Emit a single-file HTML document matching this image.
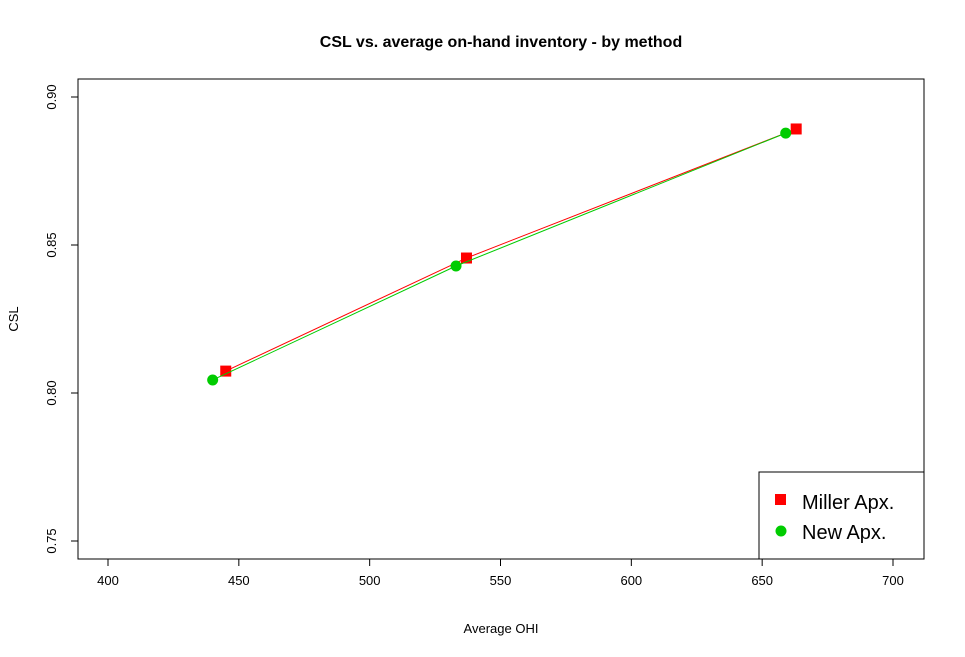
<!DOCTYPE html>
<html><head><meta charset="utf-8"><style>
body{margin:0;background:#fff}
svg{display:block;font-family:"Liberation Sans",Arial,sans-serif}
</style></head><body>
<svg id="chart" width="965" height="657">
<text x="501" y="47" text-anchor="middle" font-size="16" font-weight="bold">CSL vs. average on-hand inventory - by method</text>
<rect x="78" y="79" width="846" height="480" fill="none" stroke="#000"/>
<g id="xaxis"></g>
<g id="yaxis"></g>
<text x="501" y="633" text-anchor="middle" font-size="13">Average OHI</text>
<text transform="translate(18,319) rotate(-90)" text-anchor="middle" font-size="13">CSL</text>
<g id="series"></g>
<rect x="759" y="472" width="165" height="87" fill="#fff" stroke="#000"/>
<rect x="775" y="494" width="11" height="11" fill="#f00"/>
<text x="802" y="509" font-size="20">Miller Apx.</text>
<circle cx="781" cy="531" r="5.5" fill="#0c0"/>
<text x="802" y="539" font-size="20">New Apx.</text>
</svg>
<script>
const xTicks=[400,450,500,550,600,650,700];
const yTicks=[0.75,0.80,0.85,0.90];
const yTickLabels=["0.75","0.80","0.85","0.90"];
const millerX=[445,537,663];
const millerY=[0.8074,0.8456,0.8892];
const newX=[440,533,659];
const newY=[0.8044,0.8429,0.8878];
const NS="http://www.w3.org/2000/svg";
const sx=v=>108+(v-400)*(893-108)/300;
const sy=v=>97+(0.90-v)*(541-97)/0.15;
function mk(t,a,p){const e=document.createElementNS(NS,t);for(const k in a)e.setAttribute(k,a[k]);p.appendChild(e);return e;}
const xa=document.getElementById('xaxis'),ya=document.getElementById('yaxis'),sg=document.getElementById('series');
xTicks.forEach(v=>{const x=sx(v);
const l=mk('line',{x1:x,x2:x,y1:559,y2:566,stroke:'#000'},xa);


const t=mk('text',{x:x,y:585,'text-anchor':'middle','font-size':13},xa);t.textContent=v;

});
yTicks.forEach((v,i)=>{const y=sy(v);
const l=mk('line',{x1:71,x2:78,y1:y,y2:y,stroke:'#000'},ya);


const t=mk('text',{transform:`translate(56,${y}) rotate(-90)`,'text-anchor':'middle','font-size':13},ya);t.textContent=yTickLabels[i];

});
function series(xs,ys,col,name,sq){
const pl=mk('polyline',{points:xs.map((x,i)=>sx(x)+','+sy(ys[i])).join(' '),fill:'none',stroke:col,'stroke-width':1},sg);


xs.forEach((x,i)=>{let m;
if(sq)m=mk('rect',{x:sx(x)-5.5,y:sy(ys[i])-5.5,width:11,height:11,fill:col},sg);
else m=mk('circle',{cx:sx(x),cy:sy(ys[i]),r:5.5,fill:col},sg);

});}
series(millerX,millerY,'#f00','miller',true);
series(newX,newY,'#0c0','new',false);
</script>
</body></html>
